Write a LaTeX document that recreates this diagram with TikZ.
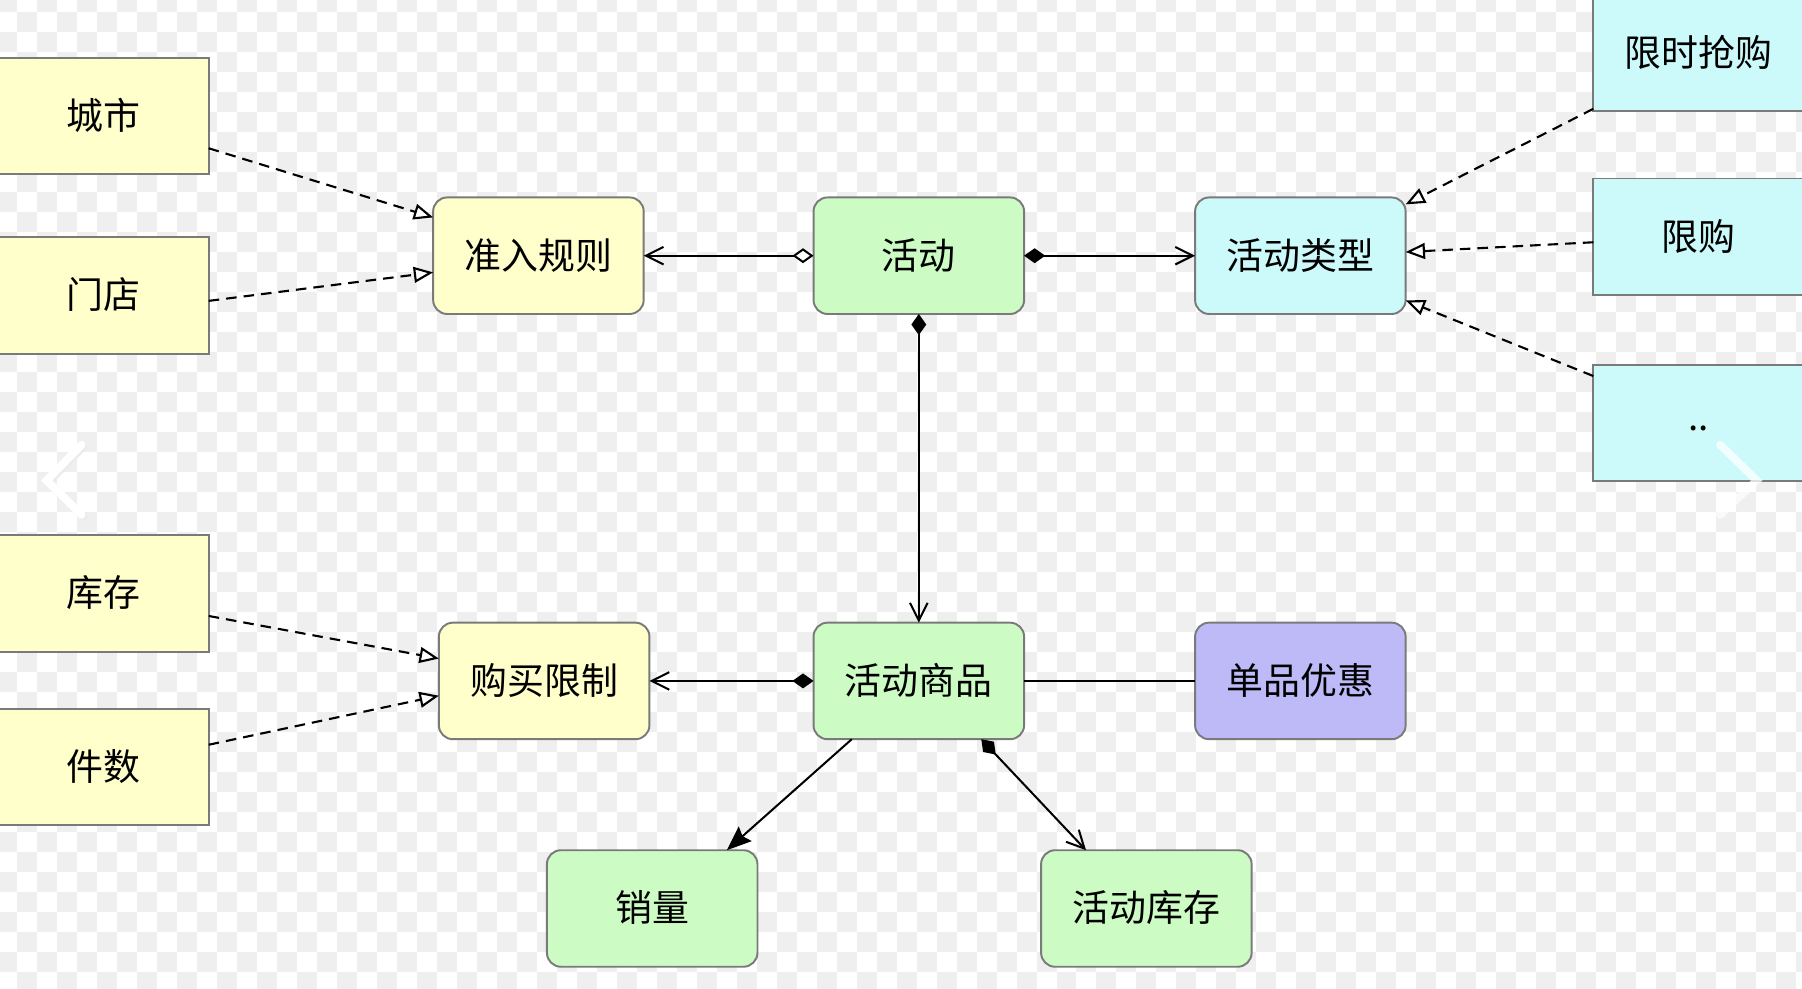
\documentclass[tikz,border=0pt]{standalone}
\usepackage{fontspec}
\setmainfont{Noto Sans CJK SC}
\usetikzlibrary{arrows.meta}
\usetikzlibrary{shapes}

\definecolor{boxYellow}{RGB}{255,255,204}
\definecolor{boxGreen}{RGB}{204,252,196}
\definecolor{boxCyan}{RGB}{204,250,250}
\definecolor{boxPurple}{RGB}{190,186,248}
\definecolor{boxBorder}{RGB}{122,122,122}
\definecolor{checkGray}{RGB}{239,239,239}

\begin{document}
\begin{tikzpicture}[x = 0.022985cm, y = -0.022985cm, font=\fontsize{21}{25}\selectfont]
	\tikzstyle{boxStyle}=[draw = boxBorder, line width = 1.1pt, minimum width = 4.21cm, minimum height = 2.33cm, inner sep = 0pt, outer sep = 0pt, text height = 1.72em, text depth = 0.2em]
	\tikzstyle{plainStyle}=[boxStyle, rectangle]
	\tikzstyle{roundStyle}=[boxStyle, rectangle, rounded corners = 0.28cm]
	\tikzstyle{dashedEdge}=[line width = 1.2pt, dash pattern = on 6pt off 4pt, -{Triangle[open, fill = white, length = 11pt, width = 9pt]}]
	\tikzstyle{openAggr}=[line width = 1.15pt, {Diamond[open, fill = white, length = 12pt, width = 8.5pt]}-{Straight Barb[length = 10pt, width = 10pt]}]
	\tikzstyle{fullAggr}=[line width = 1.15pt, {Diamond[length = 12pt, width = 8.5pt]}-{Straight Barb[length = 10pt, width = 10pt]}]
	\tikzstyle{plainEdge}=[line width = 1.15pt]
	\tikzstyle{chevron}=[line width = 4.5pt, line cap = round, line join = miter, white]
	% background
	\useasboundingbox (0,0) rectangle (1568,860);
	\fill[white] (0,0) rectangle (1568,860);
	\begin{scope}
		\clip (0,0) rectangle (1568,860);
		\foreach \k in {-2,0,...,90} {
			\foreach \j in {-2,0,...,50} {
				\fill[checkGray] ({14.5+17.4*\k},{10.7+17.4*\j}) rectangle +(17.4,17.4);
				\fill[checkGray] ({14.5+17.4*(\k+1)},{10.7+17.4*(\j+1)}) rectangle +(17.4,17.4);
			}
		}
	\end{scope}
	% boxes
	\node[plainStyle, fill = boxYellow] (city) at (90,101) {城市};
	\node[plainStyle, fill = boxYellow] (store) at (90,257) {门店};
	\node[plainStyle, fill = boxYellow] (stock) at (90,516.5) {库存};
	\node[plainStyle, fill = boxYellow] (qty) at (90,667.5) {件数};
	\node[roundStyle, fill = boxYellow] (rule) at (468.5,222.5) {准入规则};
	\node[roundStyle, fill = boxYellow] (buy) at (473.5,592.5) {购买限制};
	\node[roundStyle, fill = boxGreen] (act) at (799.5,222.5) {活动};
	\node[roundStyle, fill = boxGreen] (item) at (799.5,592.5) {活动商品};
	\node[roundStyle, fill = boxGreen] (sales) at (567.5,790.5) {销量};
	\node[roundStyle, fill = boxGreen] (astock) at (997.5,790.5) {活动库存};
	\node[roundStyle, fill = boxCyan] (type) at (1131.5,222.5) {活动类型};
	\node[roundStyle, fill = boxPurple] (disc) at (1131.5,592.5) {单品优惠};
	\node[plainStyle, fill = boxCyan] (flash) at (1478,46) {限时抢购};
	\node[plainStyle, fill = boxCyan] (limit) at (1478,206) {限购};
	\node[plainStyle, fill = boxCyan, text height = 1.1em] (more) at (1478,368) {..};
	% dashed links
	\draw[dashedEdge] (city.-17.5) -- (rule.160.4);
	\draw[dashedEdge] (store.-3.7) -- (rule.-171);
	\draw[dashedEdge] (stock.-12) -- (buy.168.6);
	\draw[dashedEdge] (qty.12.6) -- (buy.-172.2);
	\draw[dashedEdge] (flash.208.3) -- (type.26.2);
	\draw[dashedEdge] (limit.183.1) -- (type.2.8);
	\draw[dashedEdge] (more.156.3) -- (type.-23.3);
	% solid links
	\draw[openAggr] (act) -- (rule);
	\draw[fullAggr] (act) -- (type);
	\draw[fullAggr] (act) -- (item);
	\draw[fullAggr] (item) -- (buy);
	\draw[plainEdge] (item) -- (disc);
	\draw[plainEdge, -{Stealth[length = 14pt, width = 11pt, inset = 2pt]}] (item.-139.1) -- (sales.38.9);
	\draw[fullAggr] (item.-43.4) -- (astock.136.1);
	% viewer arrows
	\draw[chevron, black!8, xshift = 1pt, yshift = -1pt] (71,387) -- (40.6,418) -- (71,448);
	\draw[chevron] (71,387) -- (40.6,418) -- (71,448);
	\draw[chevron, opacity = 0.75] (1496.7,387) -- (1528.6,418) -- (1496.7,448);
\end{tikzpicture}
\end{document}
